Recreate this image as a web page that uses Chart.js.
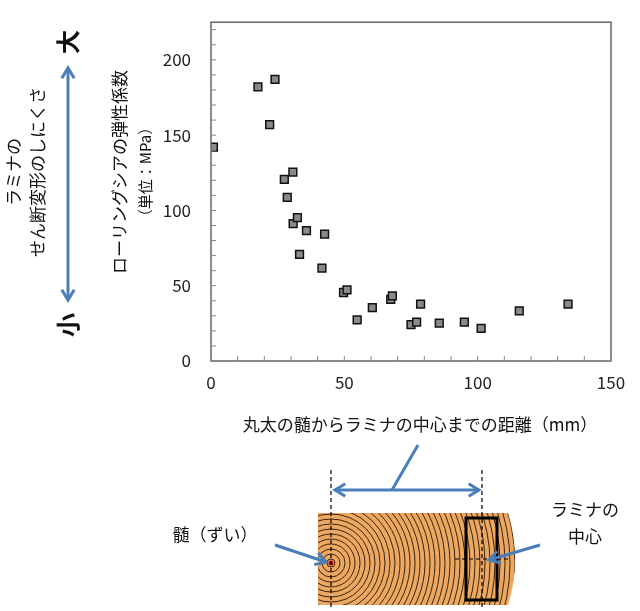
<!DOCTYPE html>
<html>
<head>
<meta charset="utf-8">
<script src="https://cdn.jsdelivr.net/npm/chart.js@4"></script>
<style>
  body { margin: 0; background: #fff; }
  #wrap { width: 640px; height: 611px; }
</style>
</head>
<body>
<div id="wrap"><canvas id="c" width="640" height="611"></canvas></div>
<script>
const JP = '"Noto Sans CJK JP", "Noto Sans", sans-serif';
const BLUE = "#4a7ebb";

// distance from pith (mm)
const distance = [0.9, 17.6, 24, 22, 27.5, 30.7, 28.6, 30.8, 32.4, 35.8, 42.6, 33.2, 41.6,
  49.7, 51, 54.8, 60.5, 67.4, 68, 78.6, 75, 77.1, 85.6, 95, 101.3, 115.6, 133.9];
// rolling shear modulus (MPa)
const modulus = [142, 182, 187, 157, 120.6, 125.5, 108.7, 91.3, 95.2, 86.6, 84.2, 70.8, 61.7,
  45.5, 47.2, 27.3, 35.5, 40.9, 43.3, 37.7, 24.2, 25.8, 25.1, 25.8, 21.6, 33.3, 37.7];
const xTickLabels = [0, 50, 100, 150];
const yTickLabels = [0, 50, 100, 150, 200];

const xTitle = "丸太の髄からラミナの中心までの距離（mm）";
const yTitle1 = "ローリングシアの弾性係数";
const yTitle2 = "（単位：MPa）";

function arrowHead(ctx, x, y, ang, size) {
  ctx.beginPath();
  ctx.moveTo(x + size * Math.cos(ang + 2.6), y + size * Math.sin(ang + 2.6));
  ctx.lineTo(x, y);
  ctx.lineTo(x + size * Math.cos(ang - 2.6), y + size * Math.sin(ang - 2.6));
  ctx.stroke();
}
function arrow(ctx, x1, y1, x2, y2, both) {
  ctx.beginPath(); ctx.moveTo(x1, y1); ctx.lineTo(x2, y2); ctx.stroke();
  const a = Math.atan2(y2 - y1, x2 - x1);
  arrowHead(ctx, x2, y2, a, 12);
  if (both) arrowHead(ctx, x1, y1, a + Math.PI, 12);
}
function vtext(ctx, t, x, y, font) {
  ctx.save(); ctx.translate(x, y); ctx.rotate(-Math.PI / 2);
  ctx.font = font; ctx.textAlign = "center"; ctx.textBaseline = "middle";
  ctx.fillText(t, 0, 0); ctx.restore();
}

const decor = {
  id: "decor",
  afterDraw(chart) {
    const ctx = chart.ctx, a = chart.chartArea;
    const xs = chart.scales.x, ys = chart.scales.y;
    ctx.save();
    // frame
    ctx.strokeStyle = "#666"; ctx.lineWidth = 1.5;
    ctx.strokeRect(a.left, a.top, a.right - a.left, a.bottom - a.top);
    // inward minor ticks
    ctx.strokeStyle = "#888"; ctx.lineWidth = 1;
    for (let v = 0; v <= 220; v += 10) {
      const y = ys.getPixelForValue(v);
      ctx.beginPath(); ctx.moveTo(a.left, y); ctx.lineTo(a.left + 5, y); ctx.stroke();
    }
    for (let v = 0; v <= 150; v += 10) {
      const x = xs.getPixelForValue(v);
      ctx.beginPath(); ctx.moveTo(x, a.bottom); ctx.lineTo(x, a.bottom - 5); ctx.stroke();
    }
    // titles
    ctx.fillStyle = "#111";
    ctx.font = "17px " + JP; ctx.textAlign = "center"; ctx.textBaseline = "middle";
    ctx.fillText(xTitle, 420, 425);
    vtext(ctx, yTitle1, 120, 172, "17px " + JP);
    vtext(ctx, yTitle2, 145, 172, "15px " + JP);
    vtext(ctx, "ラミナの", 14, 172, "17px " + JP);
    vtext(ctx, "せん断変形のしにくさ", 38, 172, "17px " + JP);
    vtext(ctx, "大", 68, 42, "bold 24px " + JP);
    vtext(ctx, "小", 68, 325, "bold 24px " + JP);
    ctx.strokeStyle = BLUE; ctx.lineWidth = 3;
    arrow(ctx, 68, 68, 68, 300, true);

    // log illustration
    ctx.save();
    ctx.beginPath();
    ctx.moveTo(318, 513); ctx.lineTo(508, 513);
    ctx.quadraticCurveTo(522, 559, 508, 605); ctx.lineTo(318, 605); ctx.closePath();
    ctx.fillStyle = "#eca860"; ctx.fill(); ctx.clip();
    ctx.strokeStyle = "#3a2410"; ctx.lineWidth = 1;
    for (let r = 4; r < 220; r += 5) {
      ctx.beginPath(); ctx.arc(331, 563, r, 0, Math.PI * 2); ctx.stroke();
    }
    ctx.restore();
    ctx.fillStyle = "#c00";
    ctx.beginPath(); ctx.arc(331, 563, 2.5, 0, Math.PI * 2); ctx.fill();
    ctx.strokeStyle = "#000"; ctx.lineWidth = 3;
    ctx.strokeRect(466, 518, 31, 82);
    ctx.lineWidth = 1.2; ctx.setLineDash([4, 3]);
    ctx.beginPath(); ctx.moveTo(331, 470); ctx.lineTo(331, 607); ctx.stroke();
    ctx.beginPath(); ctx.moveTo(482, 470); ctx.lineTo(482, 607); ctx.stroke();
    ctx.beginPath(); ctx.moveTo(455, 559); ctx.lineTo(510, 559); ctx.stroke();
    ctx.setLineDash([]);
    ctx.strokeStyle = BLUE; ctx.lineWidth = 3;
    arrow(ctx, 335, 490, 479, 490, true);
    ctx.beginPath(); ctx.moveTo(392, 490); ctx.lineTo(418, 445); ctx.stroke();
    arrow(ctx, 275, 545, 326, 562, false);
    arrow(ctx, 540, 545, 489, 560, false);
    ctx.fillStyle = "#111"; ctx.font = "17px " + JP; ctx.textAlign = "center";
    ctx.fillText("髄（ずい）", 215, 535);
    ctx.fillText("ラミナの", 585, 510);
    ctx.fillText("中心", 585, 537);
    ctx.restore();
  }
};

new Chart(document.getElementById("c"), {
  type: "scatter",
  data: {
    datasets: [{
      data: distance.map((d, i) => ({ x: d, y: modulus[i] })),
      pointStyle: "rect",
      pointRadius: 5.5,
      backgroundColor: "#8a8a8a",
      borderColor: "#111",
      borderWidth: 1.5
    }]
  },
  options: {
    responsive: false,
    animation: false,
    layout: { padding: { top: 3, right: 29 } },
    plugins: { legend: { display: false }, tooltip: { enabled: false } },
    scales: {
      x: {
        type: "linear", min: 0, max: 150,
        afterFit: s => { s.height = 250; },
        grid: { display: false },
        border: { display: false },
        ticks: {
          stepSize: 10, padding: 3, maxRotation: 0, autoSkip: false,
          color: "#222", font: { size: 17, family: JP },
          callback: v => xTickLabels.includes(v) ? v : ""
        }
      },
      y: {
        type: "linear", min: 0, max: 225,
        afterFit: s => { s.width = 211; },
        grid: { display: false },
        border: { display: false },
        ticks: {
          stepSize: 10, padding: 12, autoSkip: false,
          color: "#222", font: { size: 17, family: JP },
          callback: v => yTickLabels.includes(v) ? v : ""
        }
      }
    }
  },
  plugins: [decor]
});
</script>
</body>
</html>
